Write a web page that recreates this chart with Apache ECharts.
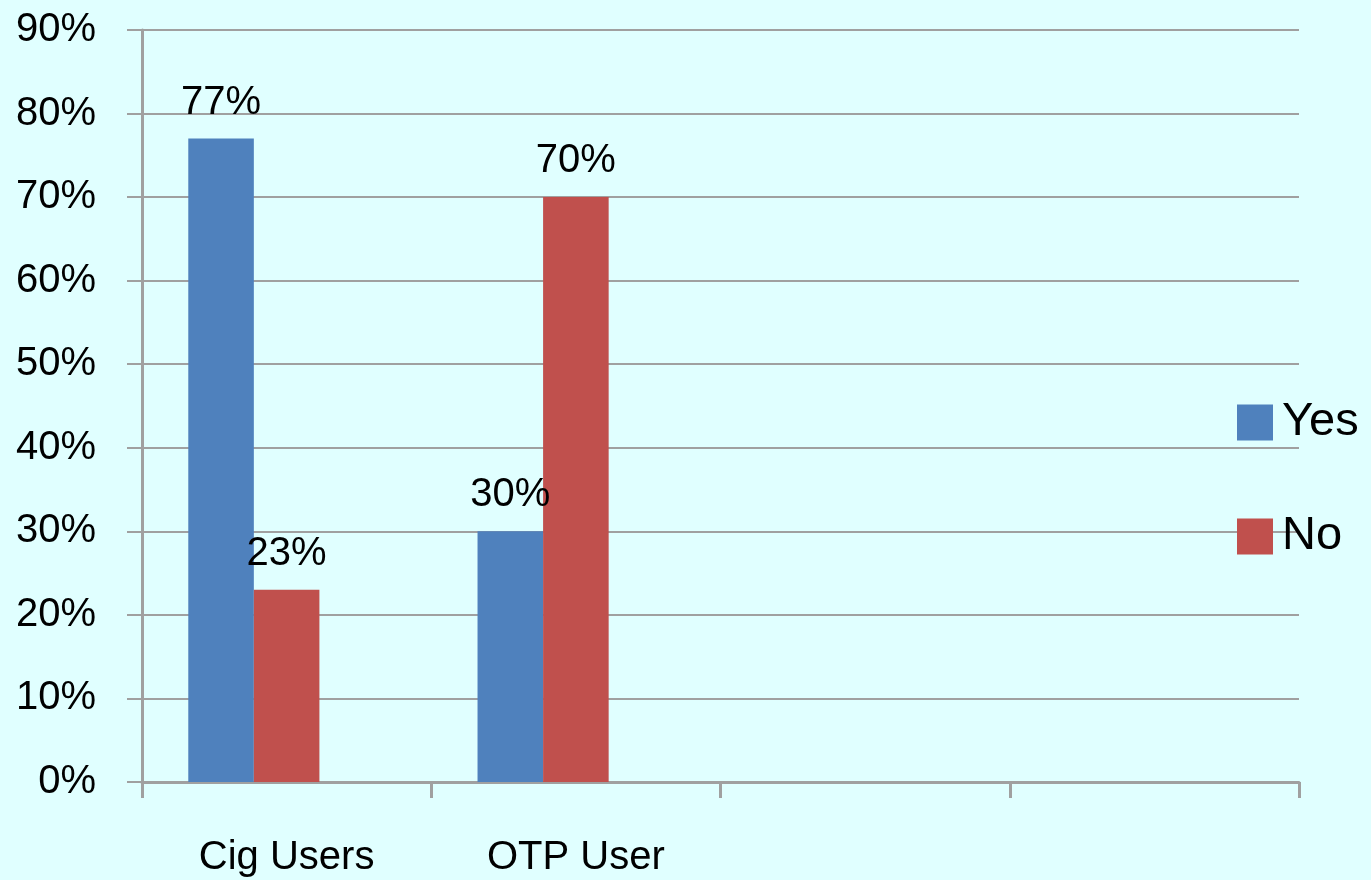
<!DOCTYPE html>
<html>
<head>
<meta charset="utf-8">
<script src="https://cdn.jsdelivr.net/npm/echarts@6/dist/echarts.min.js"></script>
<style>
  html, body { margin: 0; padding: 0; background: #e0ffff; }
  #chart { width: 1371px; height: 880px; }
</style>
</head>
<body>
<div id="chart"></div>
<script>
var categories = ['Cig Users', 'OTP User', '', '']
var yesValues = [77, 30]
var noValues = [23, 70]
var yTicks = [0, 10, 20, 30, 40, 50, 60, 70, 80, 90]

var chart = echarts.init(document.getElementById('chart'))
var font = 'Liberation Sans'

var option = {
  backgroundColor: '#e0ffff',
  animation: false,
  grid: {
    left: 142,
    right: 72,
    top: 30,
    bottom: 98
  },
  legend: {
    data: ['Yes', 'No'],
    orient: 'vertical',
    left: 1232,
    top: 394,
    icon: 'rect',
    itemWidth: 36,
    itemHeight: 36,
    itemGap: 67,
    textStyle: { fontFamily: font, fontSize: 47, color: '#000', lineHeight: 36, padding: [0, 0, 0, 4] }
  },
  xAxis: {
    type: 'category',
    data: categories,
    axisLine: { lineStyle: { color: '#a0a0a0', width: 3 } },
    axisTick: { show: true, length: 16, lineStyle: { color: '#a0a0a0', width: 3 } },
    axisLabel: { fontFamily: font, fontSize: 40, color: '#000', margin: 56 }
  },
  yAxis: {
    type: 'value',
    min: yTicks[0],
    max: yTicks[yTicks.length - 1],
    interval: 10,
    axisLine: { show: true, lineStyle: { color: '#a0a0a0', width: 3 } },
    axisTick: { show: true, inside: false, length: 15, lineStyle: { color: '#a0a0a0', width: 2 } },
    axisLabel: { fontFamily: font, fontSize: 40, color: '#000', margin: 46, formatter: '{value}%' },
    splitLine: { lineStyle: { color: '#a0a0a0', width: 2 } }
  },
  series: [{
    name: 'Yes',
    type: 'bar',
    data: yesValues,
    barGap: 0,
    barCategoryGap: '32%',
    itemStyle: { color: '#4f81bd' },
    label: { show: true, position: 'top', distance: 16, formatter: '{c}%', fontFamily: font, fontSize: 40, color: '#000' }
  }, {
    name: 'No',
    type: 'bar',
    data: noValues,
    itemStyle: { color: '#c0504d' },
    label: { show: true, position: 'top', distance: 16, formatter: '{c}%', fontFamily: font, fontSize: 40, color: '#000' }
  }, {
    // empty third series keeps the bars shifted left, as in the original
    name: '',
    type: 'bar',
    data: [null, null],
    itemStyle: { color: '#9bbb59' }
  }]
}

chart.setOption(option)
</script>
</body>
</html>
